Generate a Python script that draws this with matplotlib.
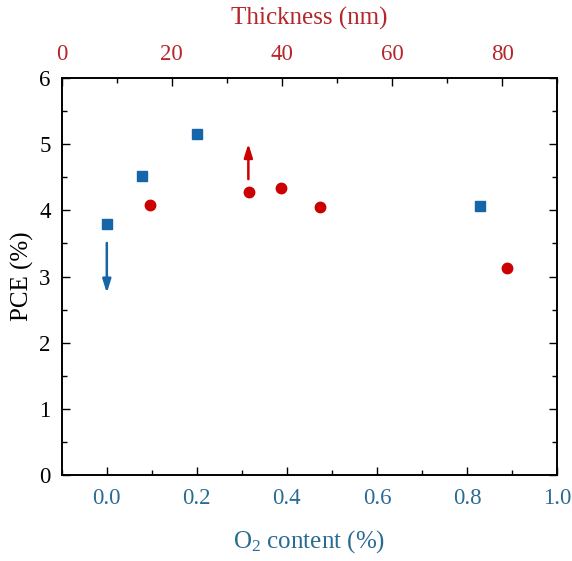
import matplotlib
matplotlib.use("Agg")
import matplotlib.pyplot as plt
from matplotlib.ticker import MultipleLocator

plt.rcParams['font.family'] = ['Liberation Serif', 'DejaVu Serif']
plt.rcParams['mathtext.fontset'] = 'custom'
plt.rcParams['mathtext.rm'] = 'Liberation Serif'
plt.rcParams['mathtext.default'] = 'regular'

# Data
o2_content = [0.0, 0.079, 0.2, 0.829]
pce_o2 = [3.80, 4.52, 5.16, 4.06]
thickness = [16.0, 34.0, 39.9, 46.9, 80.9]
pce_thick = [4.08, 4.28, 4.34, 4.05, 3.13]

blue = '#1565a8'
blue_txt = '#2a6b94'
red = '#cc0000'
red_txt = '#b5262b'

fig = plt.figure(figsize=(5.72, 5.61), dpi=100)
ax = fig.add_axes([0.108, 0.153, 0.866, 0.708])
ax2 = ax.twiny()

ax.plot(o2_content, pce_o2, 's', color=blue, markersize=6.5, linestyle='none', zorder=3)
ax2.plot(thickness, pce_thick, 'o', color=red, markersize=7.5, linestyle='none', zorder=3)

ax.set_xlim(-0.1, 1.0)
ax2.set_xlim(0, 90)
ax.set_ylim(0, 6)

ax.xaxis.set_major_locator(MultipleLocator(0.2))
ax.xaxis.set_minor_locator(MultipleLocator(0.1))
ax2.xaxis.set_major_locator(MultipleLocator(20))
ax2.xaxis.set_minor_locator(MultipleLocator(10))
ax.yaxis.set_major_locator(MultipleLocator(1))
ax.yaxis.set_minor_locator(MultipleLocator(0.5))

ax.xaxis.set_major_formatter(matplotlib.ticker.FormatStrFormatter('%.1f'))

ax.tick_params(axis='x', which='both', direction='in', top=False, colors='black',
               labelcolor=blue_txt, labelsize=16.5, pad=9)
ax.tick_params(axis='y', which='both', direction='in', right=True, labelsize=16.5, pad=8)
ax.tick_params(which='major', length=6, width=1)
ax.tick_params(which='minor', length=3.5, width=1)
ax2.tick_params(axis='x', which='both', direction='in', labelcolor=red_txt, labelsize=16.5, pad=9)
ax2.tick_params(which='major', length=6, width=1)
ax2.tick_params(which='minor', length=3.5, width=1)

for sp in ax.spines.values():
    sp.set_linewidth(1.2)
for sp in ax2.spines.values():
    sp.set_linewidth(1.2)

ax.set_xlabel(r'O$_2$ content (%)', color=blue_txt, fontsize=18, labelpad=14)
ax.set_ylabel('PCE (%)', fontsize=18, labelpad=4)
ax2.set_xlabel('Thickness (nm)', color=red_txt, fontsize=18, labelpad=14)

ax.annotate('', xy=(0.0, 2.71), xytext=(0.0, 3.55),
            arrowprops=dict(arrowstyle='-|>,head_length=0.8,head_width=0.25', color=blue, lw=1.8))
ax2.annotate('', xy=(33.9, 5.05), xytext=(33.9, 4.43),
             arrowprops=dict(arrowstyle='-|>,head_length=0.8,head_width=0.25', color=red, lw=1.8))

fig.savefig('out.png', dpi=100)
